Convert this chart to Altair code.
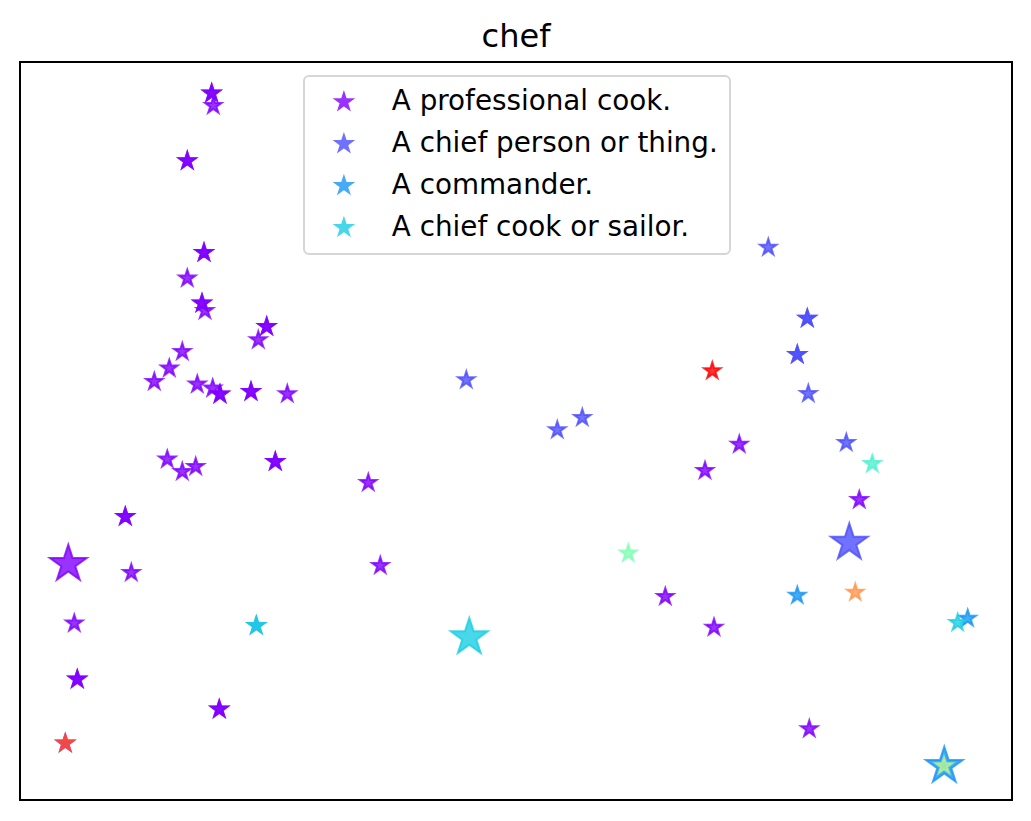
import altair as alt
import pandas as pd

# ---- data ----
# sense names (index -> colour from the 'rainbow' colormap, 11 steps)
senses = [
    "A professional cook.",
    "A chief person or thing.",
    "A commander.",
    "A chief cook or sailor.",
    "sense 5", "sense 6", "sense 7", "sense 8", "sense 9", "sense 10", "sense 11",
]
palette = ["#8000ff", "#4d4ffc", "#1996f3", "#1acee3", "#4df3ce", "#80ffb4",
           "#b3f396", "#e6ce74", "#ff964f", "#ff4f28", "#ff0000"]
legend_senses = senses[:4]

# definition (large) stars
def_x = [48.3, 829.3, 924.3, 449.3]
def_y = [236.0, 257.3, 34.0, 162.7]
def_sense = [0, 1, 2, 3]

# usage (small) stars
use_x = [
    # sense 0
    191.7, 191.7, 193.3, 167.3, 167.3, 184.0, 184.0, 167.3, 182.0, 182.0, 185.0,
    246.7, 246.7, 238.3, 162.3, 149.3, 134.3, 177.3, 192.7, 200.0, 200.0,
    231.0, 231.0, 267.3, 147.3, 162.3, 175.7, 255.3, 255.3, 348.3, 105.3, 105.3,
    111.3, 360.3, 54.3, 57.3, 57.3, 199.3, 199.3, 45.3, 685.0, 719.3, 645.3,
    694.0, 839.3, 789.3,
    # sense 1
    446.3, 537.3, 562.3, 748.3, 787.3, 787.3, 777.3, 777.3, 788.3, 826.3,
    # sense 2
    236.3, 777.3, 947.7,
    # sense 3
    236.3, 937.7,
    # others
    852.3, 608.3, 924.0, 835.3, 45.3, 692.3,
]
use_y = [
    # sense 0
    706.7, 706.7, 694.3, 639.0, 639.0, 547.3, 547.3, 521.7, 496.7, 496.7, 489.3,
    473.3, 473.3, 460.0, 448.3, 431.7, 418.3, 415.7, 411.7, 405.7, 405.7,
    408.3, 408.3, 406.0, 340.7, 328.3, 333.3, 338.3, 338.3, 317.3, 283.3, 283.3,
    227.3, 234.3, 176.7, 120.7, 120.7, 90.7, 90.7, 56.7, 329.3, 355.5, 203.3,
    172.6, 300.2, 71.1,
    # sense 1
    420.0, 370.0, 382.3, 552.5, 481.6, 481.6, 445.3, 445.3, 406.4, 357.3,
    # sense 2
    174.3, 204.5, 181.6,
    # sense 3
    174.3, 177.3,
    # others
    336.2, 246.7, 34.0, 207.5, 56.7, 429.0,
]
use_sense = [0] * 46 + [1] * 10 + [2] * 3 + [3] * 2 + [4, 5, 6, 8, 9, 10]

rows = []
for x, y, s in zip(def_x, def_y, def_sense):
    rows.append({"x": x, "y": y, "sense": senses[s], "kind": "definition"})
for x, y, s in zip(use_x, use_y, use_sense):
    rows.append({"x": x, "y": y, "sense": senses[s], "kind": "usage"})
df = pd.DataFrame(rows)

STAR = ("M0,-1L-0.2245,-0.309L-0.9511,-0.309L-0.3633,0.118L-0.5878,0.809"
        "L0,0.382L0.5878,0.809L0.3633,0.118L0.9511,-0.309L0.2245,-0.309Z")

color_scale = alt.Scale(domain=senses, range=palette)
leg = alt.Legend(
    title=None, orient="none", legendX=284, legendY=14,
    values=legend_senses, symbolType=STAR, symbolSize=300,
    symbolStrokeWidth=2, symbolOffset=14, symbolOpacity=0.8,
    labelFont="DejaVu Sans", labelFontSize=27.8, labelColor="black",
    labelOffset=34, padding=12, rowPadding=12.9,
    strokeColor="#d6d6d6", fillColor="white", cornerRadius=5,
    labelLimit=600,
)

chart = alt.Chart(df).mark_point(
    shape=STAR, filled=True, fillOpacity=0.8, strokeOpacity=0.8, strokeWidth=2
).encode(
    x=alt.X("x:Q", scale=alt.Scale(domain=[0, 992], nice=False, zero=False), axis=None),
    y=alt.Y("y:Q", scale=alt.Scale(domain=[0, 738], nice=False, zero=False), axis=None),
    fill=alt.Fill("sense:N", scale=color_scale, legend=leg),
    stroke=alt.Stroke("sense:N", scale=color_scale, legend=leg),
    size=alt.Size("kind:N", scale=alt.Scale(domain=["definition", "usage"], range=[1500, 300]), legend=None),
).properties(
    width=992, height=738,
    title=alt.TitleParams("chef", font="DejaVu Sans", fontSize=32, fontWeight="normal",
                          color="black", offset=8),
    autosize=alt.AutoSizeParams(type="none"),
    padding={"left": 20, "top": 62, "right": 19, "bottom": 21},
).configure(background="white").configure_view(
    stroke="black", strokeWidth=2
).configure_legend(strokeWidth=2)

chart.save("out.html", embed_options={"renderer": "svg", "actions": False})
